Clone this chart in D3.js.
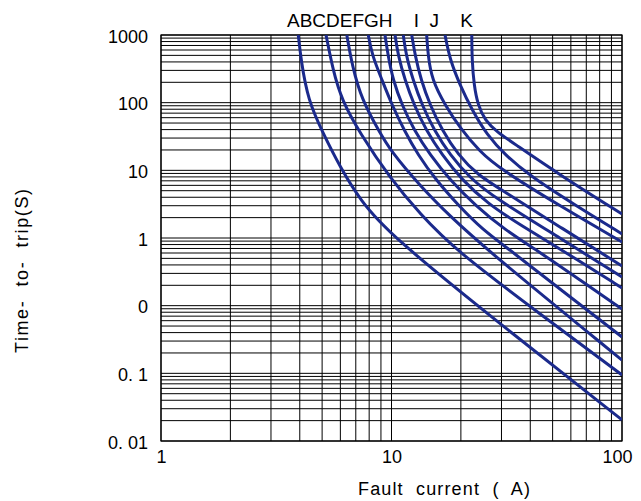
<!DOCTYPE html>
<html>
<head>
<meta charset="utf-8">
<script src="https://cdn.jsdelivr.net/npm/d3@7"></script>
<style>
  body { margin: 0; background: #fff; }
  text { font-family: Arial, "Liberation Sans", sans-serif; fill: #000; }
</style>
</head>
<body>
<div id="chart"></div>
<script>
// time-current curves, [current (A), time (s)]
var curveNames = ["A", "B", "C", "D", "E", "F", "G", "H", "I", "J", "K"];
var curveA = [[3.94,1000],[4.05,427],[4.34,109.5],[5.04,35.6],[5.98,11.2],[7.30,3.64],[9.85,1.11],[29.6,0.0536],[100,0.00205]];
var curveB = [[5.2,1000],[5.57,304],[6.08,109.5],[7.30,35.3],[9.85,7.70],[13.3,2.26],[18.9,0.665],[44.1,0.0753],[100,0.00946]];
var curveC = [[6.4,1000],[6.74,360],[7.43,109.5],[8.92,35.6],[9.85,20.0],[13.3,5.87],[17.9,2.11],[25.96,0.665],[100,0.0157]];
var curveD = [[7.93,1000],[8.23,506],[9.10,216],[10.05,92.4],[11.33,39.5],[13.03,16.9],[15.6,7.20],[19.44,3.07],[24.9,1.31],[32.7,0.665],[57.2,0.149],[100,0.0345]];
var curveE = [[9.37,1000],[9.65,506],[10.15,216],[11.1,92.4],[12.52,39.5],[14.69,16.9],[17.94,7.20],[23.0,3.07],[31.1,1.31],[43.2,0.643],[65.7,0.240],[100,0.0893]];
var curveF = [[10.36,1000],[10.67,506],[11.44,216],[12.52,92.4],[14.11,39.5],[16.56,16.9],[20.23,7.20],[25.96,3.29],[36.1,1.56],[59.5,0.561],[100,0.1825]];
var curveG = [[11.25,1000],[11.56,506],[12.40,216],[13.56,92.4],[15.29,39.5],[17.94,16.9],[21.9,7.70],[28.1,3.90],[53.8,1.0],[100,0.265]];
var curveH = [[12.24,1000],[12.65,506],[13.43,216],[14.69,92.4],[16.56,39.5],[19.44,16.9],[23.7,8.53],[29.6,5.30],[53.8,1.455],[100,0.386]];
var curveI = [[14.21,1000],[14.40,506],[14.98,216],[17.07,92.4],[19.83,42.2],[24.2,18.7],[29.6,10.5],[53.8,2.97],[100,0.873]];
var curveJ = [[17.07,1000],[17.94,427],[19.83,182],[22.35,77.9],[25.96,33.3],[31.1,16.9],[39.9,8.25],[62.5,3.07],[100,1.15]];
var curveK = [[22.3,1000],[22.35,427],[22.8,182],[23.7,92.4],[25.4,55.4],[28.7,36.9],[33.7,25.4],[53.8,8.53],[100,2.26]];
var curves = [curveA, curveB, curveC, curveD, curveE, curveF, curveG, curveH, curveI, curveJ, curveK];

var xTickValues = [1, 10, 100];
var xTickLabels = ["1", "10", "100"];
var yTickValues = [0.001, 0.01, 0.1, 1, 10, 100, 1000];
var yTickLabels = ["0. 01", "0. 1", "0", "1", "10", "100", "1000"];

var topLabel = "ABCDEFGH    I  J    K";
var xTitle = "Fault  current  (  A)";
var yTitle = "Time-  to-  trip(S)";

var margin = {top: 35, right: 19, bottom: 60, left: 161},
    width = 641 - margin.left - margin.right,
    height = 501 - margin.top - margin.bottom;

var x = d3.scaleLog()
    .domain([1, 100])
    .range([0, width]);

var y = d3.scaleLog()
    .domain([0.001, 1000])
    .range([height, 0]);

var svg = d3.select("#chart").append("svg")
    .attr("width", 641)
    .attr("height", 501);

var g = svg.append("g")
    .attr("transform", "translate(" + margin.left + "," + margin.top + ")");

// log grid
g.selectAll(".vgrid")
    .data(x.ticks())
  .enter().append("line")
    .attr("class", "vgrid")
    .attr("x1", function(d) { return x(d); })
    .attr("x2", function(d) { return x(d); })
    .attr("y1", 0)
    .attr("y2", height)
    .attr("stroke", "#000")
    .attr("stroke-width", 1);

g.selectAll(".hgrid")
    .data(y.ticks())
  .enter().append("line")
    .attr("class", "hgrid")
    .attr("x1", 0)
    .attr("x2", width)
    .attr("y1", function(d) { return y(d); })
    .attr("y2", function(d) { return y(d); })
    .attr("stroke", "#000")
    .attr("stroke-width", 1);

g.append("rect")
    .attr("width", width)
    .attr("height", height)
    .attr("fill", "none")
    .attr("stroke", "#000")
    .attr("stroke-width", 1.2);

svg.append("clipPath")
    .attr("id", "plot-clip")
  .append("rect")
    .attr("width", width)
    .attr("height", height);

// b-spline through the read points keeps the knees round
var line = d3.line()
    .x(function(d) { return x(d[0]); })
    .y(function(d) { return y(d[1]); })
    .curve(d3.curveBasis);

g.append("g")
    .attr("clip-path", "url(#plot-clip)")
  .selectAll(".curve")
    .data(curves)
  .enter().append("path")
    .attr("class", "curve")
    .attr("d", line)
    .attr("fill", "none")
    .attr("stroke", "#1b2a8c")
    .attr("stroke-width", 3);

// axes (labels only)
var xAxis = d3.axisBottom(x)
    .tickValues(xTickValues)
    .tickFormat(function(d, i) { return xTickLabels[i]; })
    .tickSize(0)
    .tickPadding(9);

var yAxis = d3.axisLeft(y)
    .tickValues(yTickValues)
    .tickFormat(function(d, i) { return yTickLabels[i]; })
    .tickSize(0)
    .tickPadding(13);

var gx = g.append("g")
    .attr("transform", "translate(0," + height + ")")
    .call(xAxis);
var gy = g.append("g").call(yAxis);

[gx, gy].forEach(function(a) {
  a.select(".domain").remove();
  a.selectAll("text")
      .style("font-family", "Arial, 'Liberation Sans', sans-serif")
      .style("font-size", "18px")
      .attr("fill", "#000");
});
gy.selectAll("text").attr("dy", "0.4em");
gx.selectAll(".tick:last-child text").attr("text-anchor", "end").attr("dx", "10");

svg.append("text")
    .attr("x", 287)
    .attr("y", 27)
    .style("font-size", "19px")
    .style("white-space", "pre")
    .attr("xml:space", "preserve")
    .text(topLabel);

svg.append("text")
    .attr("x", 444)
    .attr("y", 495)
    .attr("text-anchor", "middle")
    .style("font-size", "18px")
    .style("white-space", "pre")
    .attr("textLength", 172)
    .attr("lengthAdjust", "spacing")
    .text(xTitle);

svg.append("text")
    .attr("transform", "translate(28,271) rotate(-90)")
    .attr("text-anchor", "middle")
    .style("font-size", "18px")
    .style("white-space", "pre")
    .attr("textLength", 164)
    .attr("lengthAdjust", "spacing")
    .text(yTitle);
</script>
</body>
</html>
